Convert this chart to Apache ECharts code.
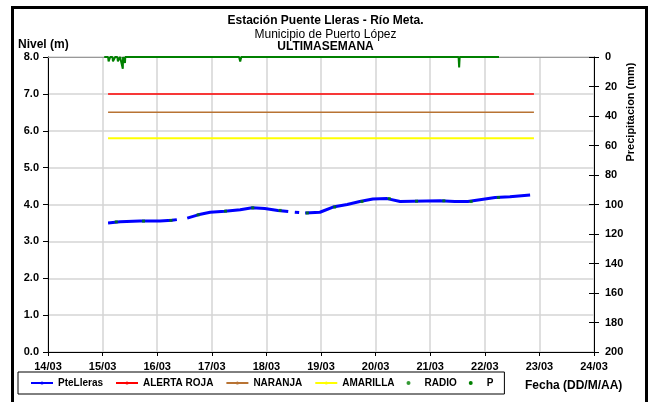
<!DOCTYPE html>
<html><head><meta charset="utf-8">
<script src="https://cdn.jsdelivr.net/npm/echarts@6/dist/echarts.min.js"></script>
<style>html,body{margin:0;padding:0;background:#fff}#c{width:651px;height:402px}</style>
</head><body><div id="c"></div>
<script>
// ---- data (x = day of March, fractional) ----
const dayTicks = [14,15,16,17,18,19,20,21,22,23,24];
const levelDays = [15.10,15.32,15.68,16.05,16.27,16.36,16.45,16.55,16.75,16.97,17.24,17.52,17.74,17.97,18.21,18.40,18.46,18.52,18.60,18.65,18.71,18.98,19.22,19.48,19.71,19.95,20.21,20.45,20.68,21.18,21.45,21.69,21.91,22.19,22.46,22.83];
const levelVals = [3.50,3.53,3.55,3.55,3.57,3.59,null,3.63,3.72,3.79,3.82,3.86,3.91,3.89,3.84,3.81,null,3.79,3.78,null,3.77,3.79,3.93,4.00,4.08,4.15,4.16,4.08,4.09,4.10,4.08,4.08,4.13,4.19,4.21,4.26];
const radioDays = [15.25,15.75,16.25,16.75,17.25,17.75,18.25,18.75,19.25,19.75,20.25,20.75,21.25,21.75,22.25];
const radioVals = [3.53,3.55,3.57,3.72,3.82,3.91,3.84,3.77,3.93,4.08,4.16,4.09,4.10,4.08,4.19];
const pDays = [15.03,15.10,15.11,15.14,15.18,15.19,15.23,15.27,15.28,15.32,15.35,15.37,15.375,15.41,15.415,15.44,17.50,17.52,17.54,21.52,21.53,21.54,22.26];
const pVals = [0,0,3,0,0,3,0,0,3,0,0,8,0,4,0,0,0,3,0,0,7,0,0];
const alertStartEnd = [15.10, 22.90];
const rojaLevel = 7.0, naranjaLevel = 6.5, amarillaLevel = 5.8;

const pair = (xs, ys) => xs.map((x,i) => [x, ys[i] === null ? '-' : ys[i]]);
const flat = (v) => alertStartEnd.map(x => [x, v]);

const FONT = 'Liberation Sans, Arial, sans-serif';
const chart = echarts.init(document.getElementById('c'), null, {renderer:'canvas'});
chart.setOption({
  backgroundColor:'#fff',
  animation:false,
  textStyle:{fontFamily:FONT},
  title:[
    {text:'Estación Puente Lleras - Río Meta.', left:'center', top:10, textStyle:{fontFamily:FONT,fontSize:12,fontWeight:'bold',color:'#000'}},
    {text:'Municipio de Puerto López', left:'center', top:24, textStyle:{fontFamily:FONT,fontSize:12,fontWeight:'normal',color:'#000'}},
    {text:'ULTIMASEMANA', left:'center', top:36, textStyle:{fontFamily:FONT,fontSize:12,fontWeight:'bold',color:'#000'}},
    {text:'Nivel (m)', left:13, top:34, textStyle:{fontFamily:FONT,fontSize:12,fontWeight:'bold',color:'#000'}},
    {text:'Fecha (DD/M/AA)', left:520, top:375, textStyle:{fontFamily:FONT,fontSize:12,fontWeight:'bold',color:'#000'}}
  ],
  graphic:[
    {type:'rect', shape:{x:12.5,y:7.5,width:634,height:420}, style:{fill:'none',stroke:'#000',lineWidth:3}, silent:true},
    {type:'text', x:631, y:112, rotation:Math.PI/2, style:{text:'Precipitacion (mm)', font:'bold 11px '+FONT, fill:'#000', align:'center', verticalAlign:'middle'}}
  ],
  grid:{left:48, right:57, top:57, bottom:50},
  legend:{
    left:18, top:372, orient:'horizontal',
    borderColor:'#000', borderWidth:1, padding:[6,11,6,12],
    itemWidth:22, itemHeight:4, itemGap:12,
    textStyle:{fontFamily:FONT,fontSize:10,fontWeight:'bold',color:'#000'},
    data:[
      {name:'PteLleras'},{name:'ALERTA ROJA'},{name:'NARANJA'},{name:'AMARILLA'},
      {name:'RADIO', icon:'circle'},{name:'P', icon:'circle'}
    ]
  },
  xAxis:[
    {type:'value', min:14, max:24, interval:1, position:'bottom',
     axisLine:{lineStyle:{color:'#000',width:1}},
     axisTick:{show:true,length:4,lineStyle:{color:'#000'}},
     axisLabel:{formatter:v=>(v<10?'0':'')+v+'/03', fontFamily:FONT, fontSize:11, fontWeight:'bold', color:'#000', margin:9},
     splitLine:{show:true, lineStyle:{color:'#d4d4d4', width:1.5}}},
    {type:'value', min:14, max:24, interval:1, position:'top',
     axisLine:{show:true, lineStyle:{color:'#999',width:1}}, axisTick:{show:false}, axisLabel:{show:false}, splitLine:{show:false}}
  ],
  yAxis:[
    {type:'value', min:0, max:8, interval:1, position:'left',
     axisLine:{show:true, lineStyle:{color:'#000',width:1}},
     axisTick:{show:true,length:5,lineStyle:{color:'#000'}},
     axisLabel:{formatter:v=>v.toFixed(1), fontFamily:FONT, fontSize:11, fontWeight:'bold', color:'#000', margin:9},
     splitLine:{show:true, lineStyle:{color:'#d4d4d4', width:1.5}}},
    {type:'value', min:0, max:200, interval:20, position:'right', inverse:true,
     axisLine:{show:true, lineStyle:{color:'#000',width:1}},
     axisTick:{show:true,length:5,lineStyle:{color:'#000'}},
     axisLabel:{fontFamily:FONT, fontSize:11, fontWeight:'bold', color:'#000', margin:11},
     splitLine:{show:false}},
    {type:'value', min:0, max:200, interval:20, position:'right', inverse:true,
     axisLine:{show:false}, axisTick:{show:true,inside:true,length:5,lineStyle:{color:'#000'}},
     axisLabel:{show:false}, splitLine:{show:false}}
  ],
  series:[
    {name:'PteLleras', type:'line', xAxisIndex:0, yAxisIndex:0, data:pair(levelDays,levelVals), symbol:'none', connectNulls:false,
     lineStyle:{color:'#0000ff', width:3}, itemStyle:{color:'#0000ff'}, z:3},
    {name:'ALERTA ROJA', type:'line', data:flat(rojaLevel), symbol:'none', lineStyle:{color:'#ff0000',width:1.5}, itemStyle:{color:'#ff0000'}},
    {name:'NARANJA', type:'line', data:flat(naranjaLevel), symbol:'none', lineStyle:{color:'#b87333',width:1.5}, itemStyle:{color:'#b87333'}},
    {name:'AMARILLA', type:'line', data:flat(amarillaLevel), symbol:'none', lineStyle:{color:'#ffff00',width:2}, itemStyle:{color:'#ffff00'}},
    {name:'RADIO', type:'scatter', yAxisIndex:0, data:pair(radioDays,radioVals), symbol:'rect', symbolSize:3, itemStyle:{color:'#008000'}, z:5},
    {name:'P', type:'line', yAxisIndex:1, data:pair(pDays,pVals), symbol:'none', lineStyle:{color:'#008000',width:2}, itemStyle:{color:'#008000'}, z:4}
  ]
});
</script></body></html>
